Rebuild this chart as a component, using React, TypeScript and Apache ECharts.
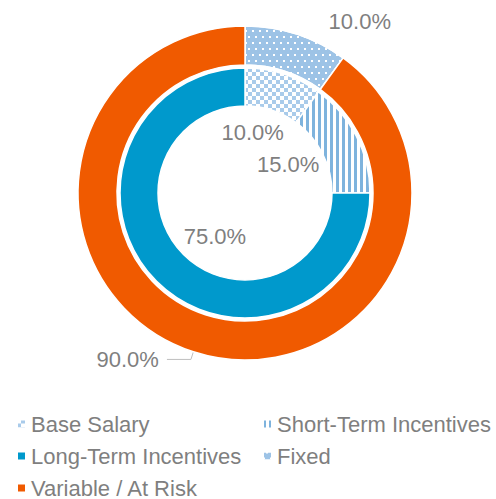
import React, { useEffect, useRef } from "react";
import * as echarts from "echarts";

const outerNames = ["Fixed", "Variable / At Risk"];
const outerValues = [10, 90];
const innerNames = ["Base Salary", "Short-Term Incentives", "Long-Term Incentives"];
const innerValues = [10, 15, 75];
const legendCol1 = ["Base Salary", "Long-Term Incentives", "Variable / At Risk"];
const legendCol2 = ["Short-Term Incentives", "Fixed"];

const ORANGE = "#F05A00";
const BLUE = "#0099CC";
const LIGHT = "#9DC3E6";
const TEXT = "#7F7F7F";
const LABEL_FONT = "'Liberation Sans Narrow', 'Arial Narrow', 'Liberation Sans', Arial, sans-serif";
const LEGEND_FONT = "'Liberation Sans', Arial, sans-serif";

// label nudges (inner ring) relative to the default inside position
const innerLabelShift = [
  [-26, 43],
  [-54, 21],
  [47, -34],
];

const decals: any[] = [
  {
    symbol: "rect",
    symbolSize: 1,
    color: "#A9CBEA",
    dashArrayX: [[4, 4], [0, 4, 4, 0]],
    dashArrayY: [4, 0],
  },
  {
    symbol: "rect",
    symbolSize: 1,
    color: "#7EB3DD",
    dashArrayX: [2.4, 2.4],
    dashArrayY: [10, 0],
  },
  null,
];
const innerColors = ["#FFFFFF", "#FFFFFF", BLUE];

const legendBase = {
  orient: "vertical",
  top: 413,
  height: 120,
  padding: 0,
  itemWidth: 9,
  itemHeight: 9,
  itemGap: 10,
  icon: "rect",
  selectedMode: false,
  textStyle: { color: TEXT, fontSize: 22, fontFamily: LEGEND_FONT, lineHeight: 22 },
};

export default function App() {
  const ref = useRef<HTMLDivElement>(null);
  useEffect(() => {
    if (!ref.current) return;
    const chart = echarts.init(ref.current, undefined, { renderer: "svg" });
    const center = [245, 193];
    const option: any = {
      animation: false,
      legend: [
        { ...legendBase, left: 16, data: legendCol1 },
        { ...legendBase, left: 262, data: legendCol2 },
      ],
      series: [
        {
          type: "pie",
          name: "outer",
          center,
          radius: [128, 167],
          startAngle: 90,
          clockwise: true,
          avoidLabelOverlap: false,
          itemStyle: { borderColor: "#ffffff", borderWidth: 1.5 },
          label: {
            show: true,
            position: "outside",
            color: TEXT,
            fontSize: 22,
            fontFamily: LABEL_FONT,
            formatter: (p: any) => p.value.toFixed(1) + "%",
          },
          labelLine: { show: true, lineStyle: { color: "#BFBFBF", width: 1 } },
          emphasis: { disabled: true },
          data: outerNames.map((n, i) =>
            i === 0
              ? {
                  name: n,
                  value: outerValues[i],
                  itemStyle: {
                    color: LIGHT,
                    decal: {
                      symbol: "rect",
                      symbolSize: 1,
                      color: "#FFFFFF",
                      dashArrayX: [[1.2, 4.8], [0, 3, 1.2, 1.8]],
                      dashArrayY: [1.2, 3.8],
                    },
                  },
                  label: { distanceToLabelLine: 5 },
                  labelLine: { show: false, length: 13, length2: 23 },
                }
              : {
                  name: n,
                  value: outerValues[i],
                  itemStyle: { color: ORANGE },
                  label: { distanceToLabelLine: 8 },
                  labelLine: { show: true, length: 8, length2: 24 },
                }
          ),
        },
        {
          type: "pie",
          name: "inner",
          center,
          radius: [87, 125],
          startAngle: 90,
          clockwise: true,
          itemStyle: { borderColor: "#ffffff", borderWidth: 1.5 },
          label: {
            show: true,
            position: "inside",
            color: TEXT,
            fontSize: 22,
            fontFamily: LABEL_FONT,
            formatter: (p: any) => p.value.toFixed(1) + "%",
          },
          labelLayout: (p: any) => ({
            dx: innerLabelShift[p.dataIndex][0],
            dy: innerLabelShift[p.dataIndex][1],
          }),
          emphasis: { disabled: true },
          data: innerNames.map((n, i) => ({
            name: n,
            value: innerValues[i],
            itemStyle: decals[i]
              ? { color: innerColors[i], decal: decals[i] }
              : { color: innerColors[i] },
          })),
        },
      ],
    };
    chart.setOption(option);
    return () => chart.dispose();
  }, []);
  return (
    <div
      ref={ref}
      style={{ position: "fixed", left: 0, top: 0, width: 496, height: 499, background: "#fff" }}
    />
  );
}
